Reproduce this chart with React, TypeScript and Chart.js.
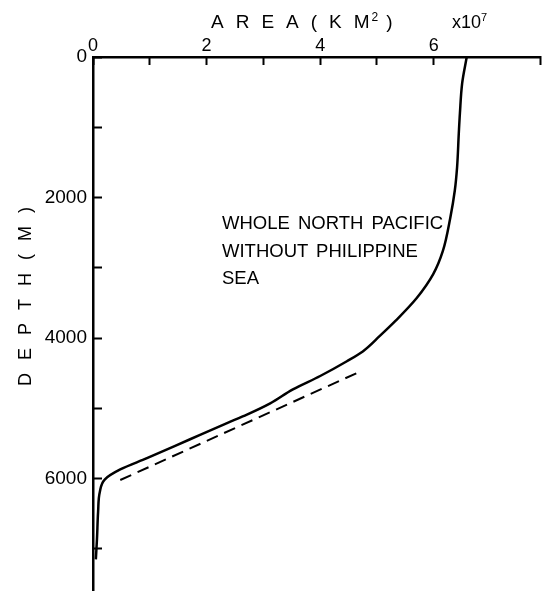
import React, { useEffect, useRef } from "react";
import { Chart, registerables } from "chart.js";

Chart.register(...registerables);

// Hypsometric curve: area (x10^7 km^2) at depth (m)
const depthM = [0, 370, 800, 1090, 1570, 1900, 2290, 2760, 3090, 3430, 3760, 3970, 4190, 4330, 4540, 4730, 4930, 5090, 5210, 5440, 5710, 5870, 6010, 6190, 6470, 6860, 7150];
const areaE7 = [6.58, 6.5, 6.46, 6.44, 6.41, 6.37, 6.29, 6.16, 5.99, 5.7, 5.32, 5.05, 4.75, 4.47, 4.0, 3.52, 3.12, 2.71, 2.36, 1.71, 0.95, 0.48, 0.21, 0.12, 0.09, 0.07, 0.05];

// Dashed reference line
const dashedDepthM = [6020, 4500];
const dashedAreaE7 = [0.48, 4.64];

const xTickLabels = [0, 2, 4, 6];
const yTickValues = [0, 1000, 2000, 3000, 4000, 5000, 6000, 7000];
const yTickLabels = [0, 2000, 4000, 6000];
const noteLines = ["WHOLE NORTH PACIFIC", "WITHOUT PHILIPPINE", "SEA"];

const FONT = "'Liberation Sans', Arial, sans-serif";

export default function App() {
  const canvasRef = useRef<HTMLCanvasElement | null>(null);

  useEffect(() => {
    const canvas = canvasRef.current;
    if (!canvas) return;
    const chart = new Chart(canvas, {
      type: "line",
      data: {
        datasets: [
          {
            data: depthM.map((d, i) => ({ x: areaE7[i], y: d })),
            borderColor: "#000",
            borderWidth: 2.5,
            pointRadius: 0,
            fill: false,
            cubicInterpolationMode: "monotone",
          },
          {
            data: dashedDepthM.map((d, i) => ({ x: dashedAreaE7[i], y: d })),
            borderColor: "#000",
            borderWidth: 2,
            borderDash: [12, 7],
            pointRadius: 0,
            fill: false,
          },
        ],
      },
      options: {
        indexAxis: "y",
        animation: false,
        responsive: false,
        devicePixelRatio: 1,
        layout: { padding: { left: 0, top: 0, right: 4, bottom: 0 } },
        plugins: { legend: { display: false }, tooltip: { enabled: false } },
        scales: {
          x: {
            type: "linear",
            position: "top",
            min: 0,
            max: 7.87,
            ticks: {
              stepSize: 1,
              autoSkip: false,
              maxRotation: 0,
              padding: 8,
              color: "#000",
              font: { family: FONT, size: 18 },
              callback: (v: any) => (xTickLabels.includes(Number(v)) ? String(v) : ""),
            },
            grid: { drawOnChartArea: false, drawTicks: true, tickLength: -8, tickColor: "#000", tickWidth: 2 },
            border: { display: true, color: "#000", width: 2.5 },
            afterFit: (s: any) => {
              s.height = 57;
              s.paddingLeft = 0;
              s.paddingRight = 0;
            },
          },
          y: {
            type: "linear",
            position: "left",
            reverse: true,
            min: 0,
            max: 7600,
            afterBuildTicks: (s: any) => {
              s.ticks = yTickValues.map((v) => ({ value: v }));
            },
            ticks: {
              autoSkip: false,
              padding: 15,
              color: "#000",
              font: { family: FONT, size: 19 },
              callback: (v: any) => (yTickLabels.includes(Number(v)) ? String(v) : ""),
            },
            grid: { drawOnChartArea: false, drawTicks: true, tickLength: -9, tickColor: "#000", tickWidth: 2 },
            border: { display: true, color: "#000", width: 2.5 },
            afterFit: (s: any) => {
              s.width = 93;
              s.paddingTop = 0;
              s.paddingBottom = 0;
            },
          },
        },
      },
    } as any);
    return () => chart.destroy();
  }, []);

  return (
    <div style={{ position: "absolute", left: 0, top: 0, width: 544, height: 591, fontFamily: FONT, color: "#000" }}>
      <canvas ref={canvasRef} width={544} height={591} style={{ position: "absolute", left: 0, top: 0 }} />
      <div style={{ position: "absolute", left: 211, top: 12, fontSize: 19, lineHeight: "19px", whiteSpace: "nowrap" }}>
        <span style={{ letterSpacing: 12 }}>AREA(K</span>
        <span>M</span>
        <sup style={{ fontSize: 12, verticalAlign: "7px", lineHeight: 0, marginLeft: 2 }}>2</sup>
        <span style={{ marginLeft: 8 }}>)</span>
      </div>
      <div style={{ position: "absolute", left: 452, top: 13, fontSize: 18, lineHeight: "18px", whiteSpace: "nowrap" }}>
        x10<sup style={{ fontSize: 11, verticalAlign: "7px", lineHeight: 0 }}>7</sup>
      </div>
      <div
        style={{
          position: "absolute",
          left: 25 - 110,
          top: 290 - 9,
          width: 220,
          height: 18,
          fontSize: 18,
          lineHeight: "18px",
          letterSpacing: 13,
          textAlign: "center",
          transform: "rotate(-90deg)",
          transformOrigin: "center",
          whiteSpace: "nowrap",
        }}
      >
        DEPTH(M)
      </div>
      {noteLines.map((t, i) => (
        <div
          key={i}
          style={{ position: "absolute", left: 222, top: 214 + i * 27.5, fontSize: 18.5, lineHeight: "18.5px", wordSpacing: 3, whiteSpace: "nowrap" }}
        >
          {t}
        </div>
      ))}
    </div>
  );
}
